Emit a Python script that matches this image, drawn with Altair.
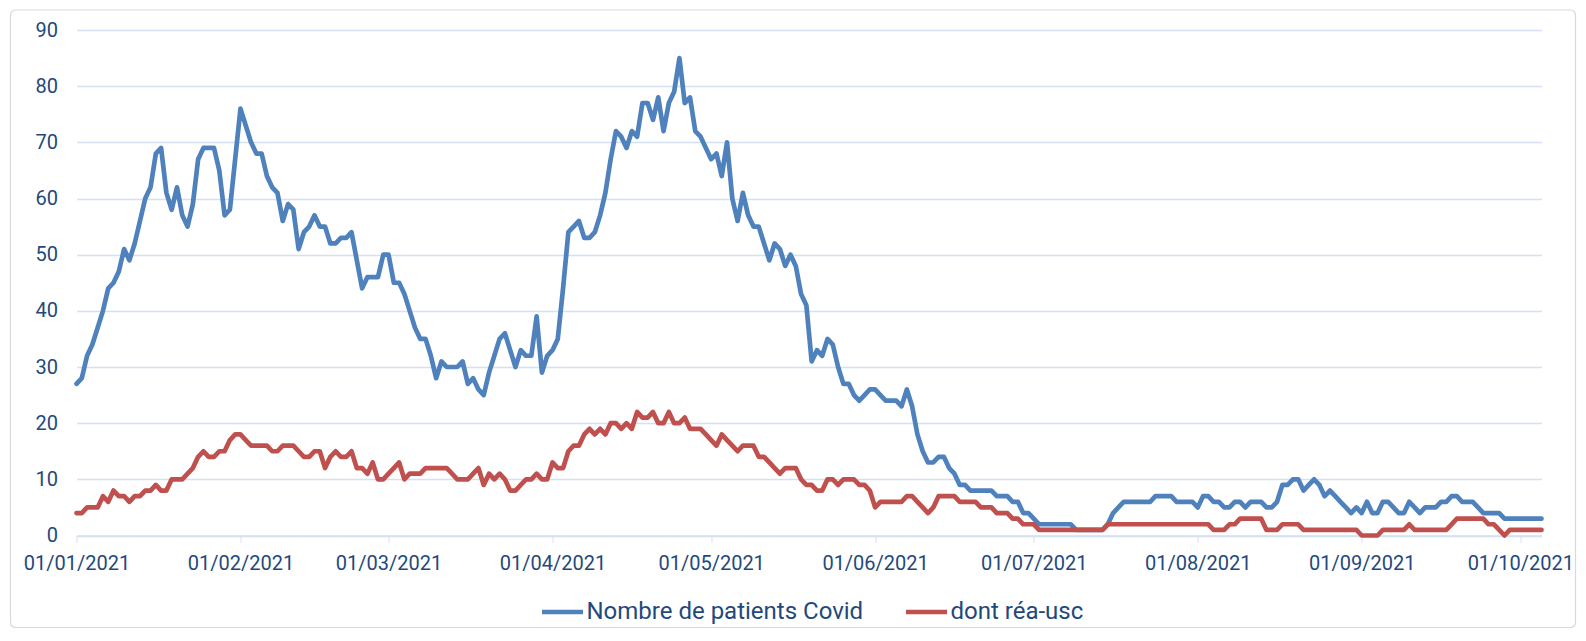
import altair as alt
import pandas as pd

# Daily values from 01/01/2021 (day 0) to 05/10/2021 (day 277)
patients_covid = [
    27, 28, 32, 34, 37, 40, 44, 45, 47, 51,
    49, 52, 56, 60, 62, 68, 69, 61, 58, 62,
    57, 55, 59, 67, 69, 69, 69, 65, 57, 58,
    67, 76, 73, 70, 68, 68, 64, 62, 61, 56,
    59, 58, 51, 54, 55, 57, 55, 55, 52, 52,
    53, 53, 54, 49, 44, 46, 46, 46, 50, 50,
    45, 45, 43, 40, 37, 35, 35, 32, 28, 31,
    30, 30, 30, 31, 27, 28, 26, 25, 29, 32,
    35, 36, 33, 30, 33, 32, 32, 39, 29, 32,
    33, 35, 44, 54, 55, 56, 53, 53, 54, 57,
    61, 67, 72, 71, 69, 72, 71, 77, 77, 74,
    78, 72, 77, 79, 85, 77, 78, 72, 71, 69,
    67, 68, 64, 70, 60, 56, 61, 57, 55, 55,
    52, 49, 52, 51, 48, 50, 48, 43, 41, 31,
    33, 32, 35, 34, 30, 27, 27, 25, 24, 25,
    26, 26, 25, 24, 24, 24, 23, 26, 23, 18,
    15, 13, 13, 14, 14, 12, 11, 9, 9, 8,
    8, 8, 8, 8, 7, 7, 7, 6, 6, 4,
    4, 3, 2, 2, 2, 2, 2, 2, 2, 1,
    1, 1, 1, 1, 1, 2, 4, 5, 6, 6,
    6, 6, 6, 6, 7, 7, 7, 7, 6, 6,
    6, 6, 5, 7, 7, 6, 6, 5, 5, 6,
    6, 5, 6, 6, 6, 5, 5, 6, 9, 9,
    10, 10, 8, 9, 10, 9, 7, 8, 7, 6,
    5, 4, 5, 4, 6, 4, 4, 6, 6, 5,
    4, 4, 6, 5, 4, 5, 5, 5, 6, 6,
    7, 7, 6, 6, 6, 5, 4, 4, 4, 4,
    3, 3, 3, 3, 3, 3, 3, 3,
]

rea_usc = [
    4, 4, 5, 5, 5, 7, 6, 8, 7, 7,
    6, 7, 7, 8, 8, 9, 8, 8, 10, 10,
    10, 11, 12, 14, 15, 14, 14, 15, 15, 17,
    18, 18, 17, 16, 16, 16, 16, 15, 15, 16,
    16, 16, 15, 14, 14, 15, 15, 12, 14, 15,
    14, 14, 15, 12, 12, 11, 13, 10, 10, 11,
    12, 13, 10, 11, 11, 11, 12, 12, 12, 12,
    12, 11, 10, 10, 10, 11, 12, 9, 11, 10,
    11, 10, 8, 8, 9, 10, 10, 11, 10, 10,
    13, 12, 12, 15, 16, 16, 18, 19, 18, 19,
    18, 20, 20, 19, 20, 19, 22, 21, 21, 22,
    20, 20, 22, 20, 20, 21, 19, 19, 19, 18,
    17, 16, 18, 17, 16, 15, 16, 16, 16, 14,
    14, 13, 12, 11, 12, 12, 12, 10, 9, 9,
    8, 8, 10, 10, 9, 10, 10, 10, 9, 9,
    8, 5, 6, 6, 6, 6, 6, 7, 7, 6,
    5, 4, 5, 7, 7, 7, 7, 6, 6, 6,
    6, 5, 5, 5, 4, 4, 4, 3, 3, 2,
    2, 2, 1, 1, 1, 1, 1, 1, 1, 1,
    1, 1, 1, 1, 1, 2, 2, 2, 2, 2,
    2, 2, 2, 2, 2, 2, 2, 2, 2, 2,
    2, 2, 2, 2, 2, 1, 1, 1, 2, 2,
    3, 3, 3, 3, 3, 1, 1, 1, 2, 2,
    2, 2, 1, 1, 1, 1, 1, 1, 1, 1,
    1, 1, 1, 0, 0, 0, 0, 1, 1, 1,
    1, 1, 2, 1, 1, 1, 1, 1, 1, 1,
    2, 3, 3, 3, 3, 3, 3, 2, 2, 1,
    0, 1, 1, 1, 1, 1, 1, 1,
]

series_names = ["Nombre de patients Covid", "dont réa-usc"]
series_colors = ["#4f81bd", "#c0504d"]

tick_days = [0, 31, 59, 90, 120, 151, 181, 212, 243, 273]
tick_labels = ["01/01/2021", "01/02/2021", "01/03/2021", "01/04/2021", "01/05/2021",
               "01/06/2021", "01/07/2021", "01/08/2021", "01/09/2021", "01/10/2021"]
y_ticks = [0, 10, 20, 30, 40, 50, 60, 70, 80, 90]

dates = pd.date_range("2021-01-01", periods=len(patients_covid), freq="D")
rows = []
for name, vals in zip(series_names, [patients_covid, rea_usc]):
    for i, v in enumerate(vals):
        rows.append({"day": i, "date": dates[i].strftime("%d/%m/%Y"), "value": v, "serie": name})
df = pd.DataFrame(rows)

label_expr = "[" + ",".join("'" + t + "'" for t in tick_labels) + "][indexof([" + \
    ",".join(str(d) for d in tick_days) + "], datum.value)]"

FONT = "Roboto"
TXT = "#1f497d"
GRID = "#d3e1f3"

W = 1465
H = 505.5

lines = alt.Chart(df).mark_line(strokeWidth=4.7, strokeJoin="round", strokeCap="round").encode(
    x=alt.X("day:Q",
            scale=alt.Scale(domain=[0, len(patients_covid) - 1], nice=False, zero=False),
            axis=alt.Axis(values=tick_days, labelExpr=label_expr, title=None, grid=False,
                          domainColor=GRID, domainWidth=1.5, tickColor=GRID, tickSize=7,
                          labelFont=FONT, labelFontSize=20, labelColor=TXT,
                          labelPadding=11, labelFlush=False, labelOverlap=False)),
    y=alt.Y("value:Q",
            scale=alt.Scale(domain=[0, 90], nice=False),
            axis=alt.Axis(values=y_ticks, title=None, grid=True, gridColor=GRID, gridWidth=1.3,
                          domain=False, ticks=False, labelFont=FONT, labelFontSize=20,
                          labelColor=TXT, labelPadding=19)),
    color=alt.Color("serie:N",
                    scale=alt.Scale(domain=series_names, range=series_colors),
                    sort=series_names,
                    legend=alt.Legend(title=None, orient="none", legendX=463, legendY=559,
                                      direction="horizontal", symbolType="stroke",
                                      symbolSize=1681, symbolStrokeWidth=4.7,
                                      labelFont=FONT, labelFontSize=24, labelColor=TXT,
                                      labelOffset=1, columnPadding=33, labelLimit=500)),
    order=alt.Order("day:Q"),
)

frame = alt.Chart(pd.DataFrame({"k": [0]})).mark_rect(
    fillOpacity=0, stroke="#d9d9d9", strokeWidth=1.2, cornerRadius=5
).encode(
    x=alt.value(-66), x2=alt.value(W + 34), y=alt.value(-20), y2=alt.value(H + 92)
)

chart = alt.layer(frame, lines).properties(
    width=W, height=H,
    autosize=alt.AutoSizeParams(type="none"),
    padding={"left": 68.5, "top": 22, "right": 36, "bottom": 96},
    background="white",
).configure_view(strokeWidth=0)

chart.save("out.html", embed_options={"renderer": "svg", "actions": False})
